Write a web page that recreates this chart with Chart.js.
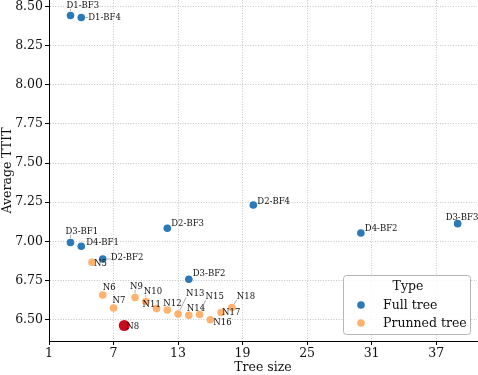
<!DOCTYPE html>
<html><head><meta charset="utf-8">
<script src="https://cdn.jsdelivr.net/npm/chart.js@4/dist/chart.umd.min.js"></script>
<style>html,body{margin:0;padding:0;background:#fff}</style>
</head><body>
<canvas id="c" width="478" height="375"></canvas>
<script>
// ---- data ----
const fullLabels = ['D1-BF3','D1-BF4','D2-BF2','D2-BF3','D2-BF4','D3-BF1','D3-BF2','D3-BF3','D4-BF1','D4-BF2'];
const fullSize   = [3, 4, 6, 12, 20, 3, 14, 39, 4, 30];
const fullTTIT   = [8.443, 8.430, 6.887, 7.083, 7.232, 6.992, 6.758, 7.113, 6.968, 7.053];

const prunedLabels = ['N5','N6','N7','N8','N9','N10','N11','N12','N13','N14','N15','N16','N17','N18'];
const prunedSize   = [5, 6, 7, 8, 9, 10, 11, 12, 13, 14, 15, 16, 17, 18];
const prunedTTIT   = [6.866, 6.657, 6.574, 6.462, 6.641, 6.615, 6.570, 6.561, 6.536, 6.527, 6.532, 6.499, 6.545, 6.577];

const highlighted = 'N8';
const xTicks = [1, 7, 13, 19, 25, 31, 37];
const yTicks = [6.50, 6.75, 7.00, 7.25, 7.50, 7.75, 8.00, 8.25, 8.50];
const seriesNames = ['Full tree', 'Prunned tree'];
const legendTitle = 'Type';
const xTitle = 'Tree size';
const yTitle = 'Average TTIT';

// ---- styling / label placement (not data) ----
const BLUE = '#2a79b8', ORANGE = '#ffb26e', RED = '#cc0a1e';
const SERIF = "'DejaVu Serif', serif";
const labelOffsets = { // [dx of text left edge, dy of text middle] in px from the point
  'D1-BF3':[-4,-10], 'D1-BF4':[7,0], 'D3-BF1':[-5,-11], 'D4-BF1':[5,-4], 'D2-BF2':[8,-1],
  'D2-BF3':[4,-5], 'D3-BF2':[4,-5], 'D2-BF4':[4,-3], 'D4-BF2':[4,-4], 'D3-BF3':[-12,-6],
  'N5':[2,2], 'N6':[0,-7], 'N7':[-1,-7], 'N8':[2,1], 'N9':[-5,-11], 'N10':[-2,-10],
  'N11':[-14,-4], 'N12':[-4,-6], 'N13':[8,-20], 'N14':[-2,-7], 'N15':[6,-18],
  'N16':[3,3], 'N17':[1,0], 'N18':[5,-11]
};

const pts = (xs, ys) => xs.map((x, i) => ({x: x, y: ys[i]}));

const annotatePlugin = {
  id: 'annotate',
  afterDatasetsDraw(chart) {
    const ctx = chart.ctx;
    ctx.save();
    ctx.font = "8.5px " + SERIF;
    ctx.textBaseline = 'middle';
    ctx.textAlign = 'left';
    chart.data.datasets.forEach((ds, di) => {
      const meta = chart.getDatasetMeta(di);
      meta.data.forEach((el, i) => {
        const name = ds.names[i];
        const off = labelOffsets[name] || [4, -4];
        const tx = el.x + off[0], ty = el.y + off[1];
        const w = ctx.measureText(name).width, h = 7;
        const bx = Math.max(tx, Math.min(el.x, tx + w));
        const by = Math.max(ty - h / 2, Math.min(el.y, ty + h / 2));
        const dx = bx - el.x, dy = by - el.y, d = Math.hypot(dx, dy);
        const r = (ds.names[i] === highlighted ? 5.5 : 3.8) + 0.5;
        if (d - r > 2) {
          ctx.beginPath();
          ctx.strokeStyle = '#8a8a8a';
          ctx.lineWidth = 0.7;
          ctx.moveTo(el.x + dx / d * r, el.y + dy / d * r);
          ctx.lineTo(bx, by);
          ctx.stroke();
        }
        ctx.fillStyle = '#111';
        ctx.fillText(name, tx, ty);
      });
    });
    ctx.restore();
  }
};

const legendPlugin = {
  id: 'boxLegend',
  afterDraw(chart) {
    const ctx = chart.ctx;
    const x = 343.5, y = 275.5, w = 127, h = 59, r = 3;
    ctx.save();
    ctx.beginPath();
    ctx.moveTo(x + r, y); ctx.lineTo(x + w - r, y); ctx.arcTo(x + w, y, x + w, y + r, r);
    ctx.lineTo(x + w, y + h - r); ctx.arcTo(x + w, y + h, x + w - r, y + h, r);
    ctx.lineTo(x + r, y + h); ctx.arcTo(x, y + h, x, y + h - r, r);
    ctx.lineTo(x, y + r); ctx.arcTo(x, y, x + r, y, r);
    ctx.closePath();
    ctx.fillStyle = 'rgba(255,255,255,0.85)';
    ctx.fill();
    ctx.strokeStyle = '#b5b5b5';
    ctx.lineWidth = 1;
    ctx.stroke();
    ctx.font = "12.5px " + SERIF;
    ctx.fillStyle = '#111';
    ctx.textBaseline = 'middle';
    ctx.textAlign = 'center';
    ctx.fillText(legendTitle, 408, 287);
    ctx.textAlign = 'left';
    chart.data.datasets.forEach((ds, i) => {
      const yy = 305 + i * 18;
      ctx.beginPath();
      ctx.fillStyle = ds.legendColor;
      ctx.arc(361, yy, 3.8, 0, Math.PI * 2);
      ctx.fill();
      ctx.fillStyle = '#111';
      ctx.fillText(ds.label, 383, yy + 0.5);
    });
    ctx.restore();
  }
};

const gridCommon = {
  color: 'rgba(170,170,170,0.85)',
  lineWidth: 0.8,
  tickColor: '#000',
  tickLength: 4,
  tickWidth: 1
};

new Chart(document.getElementById('c'), {
  type: 'scatter',
  data: {
    datasets: [
      {
        label: seriesNames[0], names: fullLabels, legendColor: BLUE,
        data: pts(fullSize, fullTTIT),
        backgroundColor: BLUE, borderWidth: 0, pointRadius: 3.8, pointHoverRadius: 3.8
      },
      {
        label: seriesNames[1], names: prunedLabels, legendColor: ORANGE,
        data: pts(prunedSize, prunedTTIT),
        backgroundColor: c => prunedLabels[c.dataIndex] === highlighted ? RED : ORANGE,
        borderWidth: 0,
        pointRadius: c => prunedLabels[c.dataIndex] === highlighted ? 5.5 : 3.8,
        pointHoverRadius: c => prunedLabels[c.dataIndex] === highlighted ? 5.5 : 3.8
      }
    ]
  },
  options: {
    responsive: false,
    devicePixelRatio: 1,
    animation: false,
    events: [],
    layout: { autoPadding: false, padding: { left: 0, right: 1, top: 0, bottom: 0 } },
    plugins: { legend: { display: false }, tooltip: { enabled: false } },
    scales: {
      x: {
        type: 'linear', position: 'bottom', min: 1, max: 40.8,
        afterBuildTicks: s => { s.ticks = xTicks.map(v => ({value: v})); },
        afterFit: s => { s.height = 34; s.paddingLeft = 0; s.paddingRight = 0; },
        ticks: { font: { family: SERIF, size: 12.5 }, color: '#111', padding: 1, maxRotation: 0, autoSkip: false },
        grid: gridCommon,
        border: { display: true, color: '#000', width: 1, dash: [1, 1.6] },
        title: { display: true, text: xTitle, font: { family: SERIF, size: 12.5 }, color: '#111', padding: { top: 0, bottom: 0 } }
      },
      y: {
        type: 'linear', position: 'left', min: 6.363, max: 8.542,
        afterBuildTicks: s => { s.ticks = yTicks.map(v => ({value: v})); },
        afterFit: s => { s.width = 49; s.paddingTop = 0; s.paddingBottom = 0; },
        ticks: { font: { family: SERIF, size: 12.5 }, color: '#111', padding: 2, autoSkip: false,
                 callback: v => Number(v).toFixed(2) },
        grid: gridCommon,
        border: { display: true, color: '#000', width: 1, dash: [1, 1.6] },
        title: { display: true, text: yTitle, font: { family: SERIF, size: 12.5 }, color: '#111', padding: { top: 0, bottom: 0 } }
      }
    }
  },
  plugins: [annotatePlugin, legendPlugin]
});
</script>
</body></html>
